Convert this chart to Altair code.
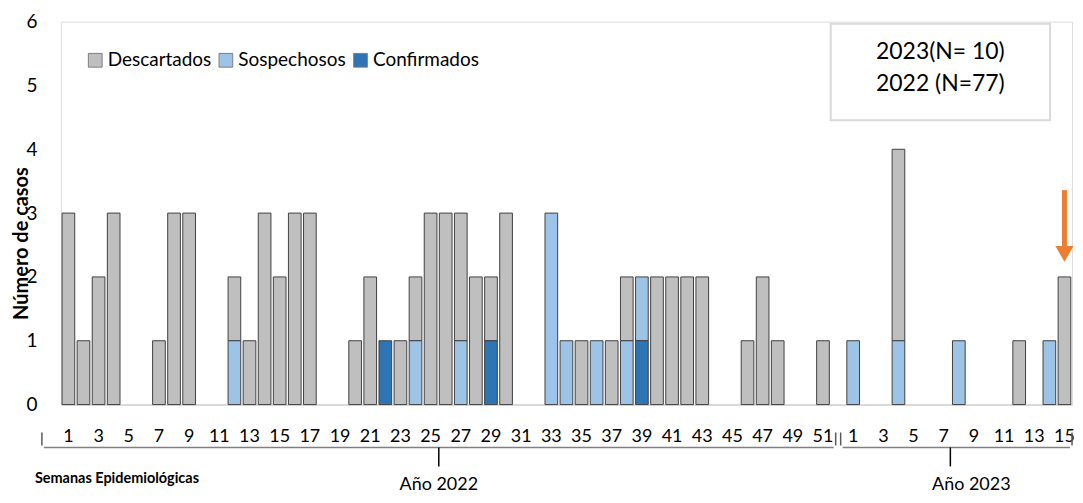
import altair as alt
import pandas as pd

# ---------------- data ----------------
semanas_2022 = list(range(1, 53))
semanas_2023 = list(range(1, 16))

descartados_2022 = [3, 1, 2, 3, 0, 0, 1, 3, 3, 0, 0, 1, 1, 3, 2, 3, 3, 0, 0, 1,
                    2, 0, 1, 1, 3, 3, 2, 2, 1, 3, 0, 0, 0, 0, 1, 0, 1, 1, 0, 2,
                    2, 2, 2, 0, 0, 1, 2, 1, 0, 0, 1, 0]
sospechosos_2022 = [0, 0, 0, 0, 0, 0, 0, 0, 0, 0, 0, 1, 0, 0, 0, 0, 0, 0, 0, 0,
                    0, 0, 0, 1, 0, 0, 1, 0, 0, 0, 0, 0, 3, 1, 0, 1, 0, 1, 1, 0,
                    0, 0, 0, 0, 0, 0, 0, 0, 0, 0, 0, 0]
confirmados_2022 = [0, 0, 0, 0, 0, 0, 0, 0, 0, 0, 0, 0, 0, 0, 0, 0, 0, 0, 0, 0,
                    0, 1, 0, 0, 0, 0, 0, 0, 1, 0, 0, 0, 0, 0, 0, 0, 0, 0, 1, 0,
                    0, 0, 0, 0, 0, 0, 0, 0, 0, 0, 0, 0]

descartados_2023 = [0, 0, 0, 3, 0, 0, 0, 0, 0, 0, 0, 1, 0, 0, 2]
sospechosos_2023 = [1, 0, 0, 1, 0, 0, 0, 1, 0, 0, 0, 0, 0, 1, 0]
confirmados_2023 = [0, 0, 0, 0, 0, 0, 0, 0, 0, 0, 0, 0, 0, 0, 0]

series = ["Descartados", "Sospechosos", "Confirmados"]
colores = ["#BFBFBF", "#9DC3E6", "#2E75B6"]
orden_pila = {"Confirmados": 0, "Sospechosos": 1, "Descartados": 2}

anotacion_lineas = ["2023(N= 10)", "2022 (N=77)"]
y_ticks = [0, 1, 2, 3, 4, 5, 6]

# ---------------- build table ----------------
keys = [f"2022-{w}" for w in semanas_2022] + [f"2023-{w}" for w in semanas_2023]
rows = []
for year, weeks, d, s, c in [
    (2022, semanas_2022, descartados_2022, sospechosos_2022, confirmados_2022),
    (2023, semanas_2023, descartados_2023, sospechosos_2023, confirmados_2023),
]:
    for i, w in enumerate(weeks):
        for name, vals in zip(series, [d, s, c]):
            if vals[i] > 0:
                rows.append({"key": f"{year}-{w}", "serie": name,
                             "casos": vals[i], "orden": orden_pila[name]})
df = pd.DataFrame(rows)

FONT = "Lato"
W, H = 1014, 384

label_expr = ("toNumber(split(datum.value,'-')[1]) % 2 == 1 ? "
              "split(datum.value,'-')[1] : ''")

bars = alt.Chart(df).mark_bar(stroke="#404040", strokeWidth=1).encode(
    x=alt.X("key:N",
            scale=alt.Scale(domain=keys, paddingInner=0.16, paddingOuter=0.08),
            sort=keys,
            axis=alt.Axis(title=None, labelExpr=label_expr, labelAngle=0,
                          ticks=False, domainColor="#D9D9D9", domainWidth=2,
                          labelFontSize=18, labelFont=FONT, labelColor="#000000",
                          labelPadding=23, labelOverlap=False, grid=False)),
    y=alt.Y("casos:Q", stack="zero",
            scale=alt.Scale(domain=[0, 6], nice=False),
            axis=alt.Axis(title="Número de casos", values=y_ticks, format="d",
                          grid=False, domain=False, ticks=False, labelFontSize=19,
                          labelFont=FONT, labelColor="#000000", labelPadding=24,
                          titleFont=FONT, titleFontSize=20, titleFontWeight="bold",
                          titleColor="#000000", titleAngle=270, titleX=-39,
                          titleY=222, titleAlign="center", titleBaseline="middle")),
    color=alt.Color("serie:N",
                    scale=alt.Scale(domain=series, range=colores),
                    legend=alt.Legend(title=None, orient="none", direction="horizontal",
                                      legendX=25, legendY=29, symbolType="square",
                                      symbolSize=190, symbolStrokeColor="#7F7F7F",
                                      symbolStrokeWidth=1, labelFont=FONT,
                                      labelFontSize=19, labelColor="#000000",
                                      columnPadding=5, labelOffset=3, padding=0)),
    order=alt.Order("orden:Q", sort="ascending"),
)

# orange arrow at the last week
arrow_df = pd.DataFrame({"key": ["2023-15"], "casos": [3.36], "casos2": [2.45],
                         "punta": [2.36]})
arrow_shaft = alt.Chart(arrow_df).mark_rule(color="#ED7D31", strokeWidth=5).encode(
    x="key:N", y="casos:Q", y2="casos2:Q")
arrow_head = alt.Chart(arrow_df).mark_point(shape="triangle-down", filled=True,
                                            color="#ED7D31", opacity=1, size=330).encode(
    x="key:N", y=alt.Y("punta:Q"))

one = alt.Data(values=[{"a": 1}])

box = alt.Chart(one).mark_rect(fill="white", stroke="#D9D9D9", strokeWidth=2).encode(
    x=alt.value(772), x2=alt.value(992), y=alt.value(2), y2=alt.value(99))
box_t1 = alt.Chart(one).mark_text(text=anotacion_lineas[0], font=FONT, fontSize=23,
                                  color="#000000").encode(x=alt.value(882), y=alt.value(30))
box_t2 = alt.Chart(one).mark_text(text=anotacion_lineas[1], font=FONT, fontSize=23,
                                  color="#000000").encode(x=alt.value(882), y=alt.value(63))

# braces under the axis
BR = "#595959"
def rule(x1, x2, y1, y2, color=BR, w=1.5):
    return alt.Chart(one).mark_rule(color=color, strokeWidth=w).encode(
        x=alt.value(x1), x2=alt.value(x2), y=alt.value(y1), y2=alt.value(y2))

braces = [
    rule(-17, 775, 427, 427, "#808080"),
    rule(-19, -19, 412, 425),
    rule(777, 777, 412, 425),
    rule(379, 379, 427, 446, "#000000"),
    rule(784, 1012, 427, 427, "#808080"),
    rule(782, 782, 412, 425),
    rule(1014, 1014, 412, 425),
    rule(892, 892, 427, 446, "#000000"),
]

txt_sem = alt.Chart(one).mark_text(text="Semanas Epidemiológicas", font=FONT,
                                   fontSize=14.5, fontWeight="bold", align="left",
                                   color="#000000").encode(x=alt.value(-26), y=alt.value(459))
txt_2022 = alt.Chart(one).mark_text(text="Año 2022", font=FONT, fontSize=18,
                                    color="#000000").encode(x=alt.value(379), y=alt.value(465))
txt_2023 = alt.Chart(one).mark_text(text="Año 2023", font=FONT, fontSize=18,
                                    color="#000000").encode(x=alt.value(913), y=alt.value(465))

chart = alt.layer(
    bars, arrow_shaft, arrow_head, box, box_t1, box_t2, *braces,
    txt_sem, txt_2022, txt_2023
).properties(
    width=W, height=H,
    autosize=alt.AutoSizeParams(type="none"),
    padding={"left": 53, "top": 13, "right": 3, "bottom": 89},
    background="white",
).configure_view(stroke=None).configure(font=FONT)

chart.save("out.html", embed_options={"renderer": "svg", "actions": False})
